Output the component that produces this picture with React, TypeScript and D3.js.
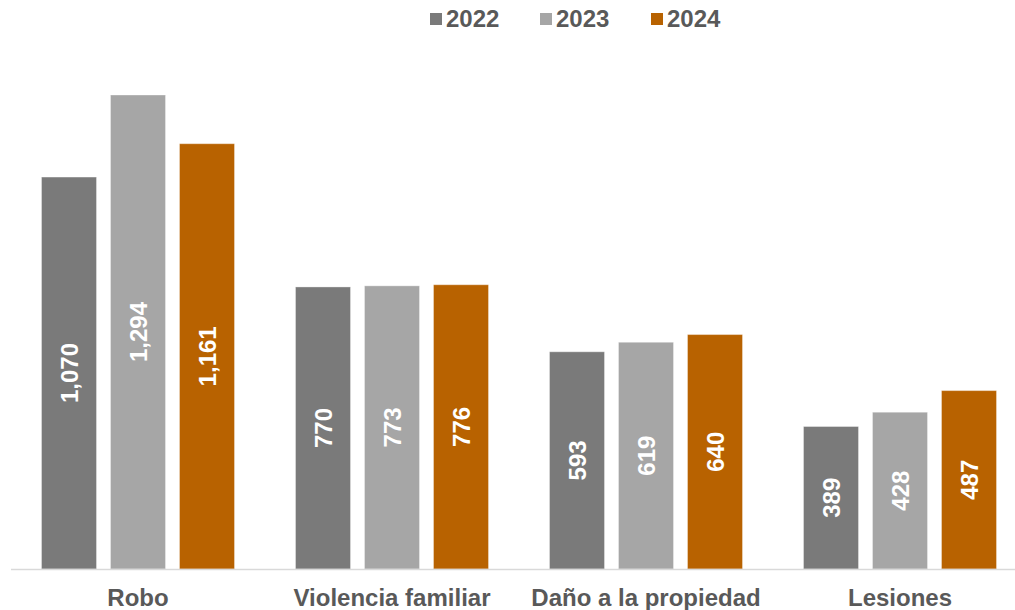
import React from "react";
import * as d3 from "d3";

const categories = ["Robo", "Violencia familiar", "Daño a la propiedad", "Lesiones"];
const years = ["2022", "2023", "2024"];
const values2022 = [1070, 770, 593, 389];
const values2023 = [1294, 773, 619, 428];
const values2024 = [1161, 776, 640, 487];
const seriesValues = [values2022, values2023, values2024];
const colors = ["#7a7a7a", "#a6a6a6", "#b86200"];

const W = 1015;
const H = 610;
const baseline = 569;
const top = 95;

export default function App() {
  const x0 = d3.scaleBand<string>().domain(categories).range([11, 11 + 254 * 4]).paddingInner(0).paddingOuter(0);
  const x1 = d3.scaleBand<string>().domain(years).range([30.5, 254 - 30.5]).paddingInner(14 / 69).paddingOuter(0);
  const y = d3.scaleLinear().domain([0, 1294]).range([baseline, top]);
  const fmt = d3.format(",");
  const font = "'Liberation Sans', Arial, sans-serif";
  const legendX = [430, 540, 651];

  return (
    <svg width={W} height={H} style={{ position: "absolute", left: 0, top: 0, background: "#fff" }} fontFamily={font}>
      {categories.map((c, ci) => (
        <g key={c} transform={`translate(${x0(c)},0)`}>
          {years.map((yr, si) => {
            const v = seriesValues[si][ci];
            const bx = x1(yr)!;
            const bw = x1.bandwidth();
            const by = y(v);
            const cx = bx + bw / 2;
            const cy = (by + baseline) / 2;
            return (
              <g key={yr}>
                <rect x={bx} y={by} width={bw} height={baseline - by} fill={colors[si]} stroke="#ffffff" strokeOpacity={0.35} strokeWidth={1} />
                <text
                  transform={`translate(${cx + 8.5},${cy}) rotate(-90)`}
                  textAnchor="middle"
                  fill="#ffffff"
                  fontWeight="bold"
                  fontSize={24}
                >
                  {fmt(v)}
                </text>
              </g>
            );
          })}
          <text x={x0.bandwidth() / 2} y={606} textAnchor="middle" fill="#595959" fontWeight="bold" fontSize={24}>
            {c}
          </text>
        </g>
      ))}
      <line x1={11} x2={W} y1={baseline + 0.5} y2={baseline + 0.5} stroke="#d9d9d9" strokeWidth={1.5} />
      {years.map((yr, i) => (
        <g key={yr}>
          <rect x={legendX[i]} y={13} width={12} height={12} fill={colors[i]} />
          <text x={legendX[i] + 16} y={27} fill="#595959" fontWeight="bold" fontSize={24}>
            {yr}
          </text>
        </g>
      ))}
    </svg>
  );
}
